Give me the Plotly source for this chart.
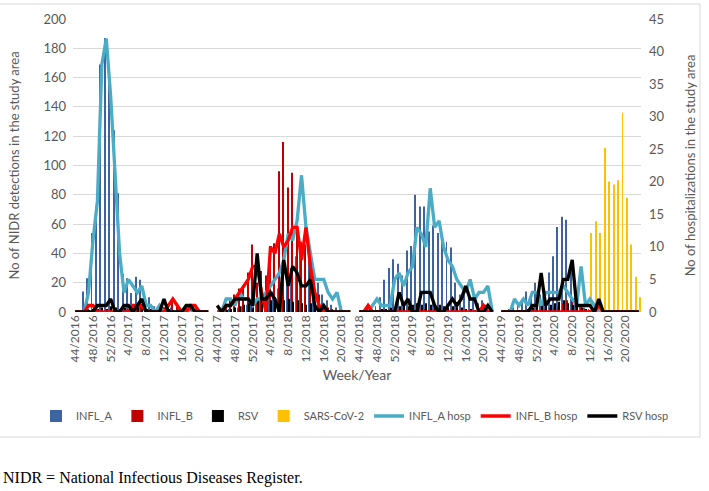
import plotly.graph_objects as go

# ---- categories (week/year), four seasons of week 44 .. week 23 ----
season_weeks = [44, 45, 46, 47, 48, 49, 50, 51, 52, 1, 2, 3, 4, 5, 6, 7, 8, 9, 10,
                11, 12, 13, 14, 15, 16, 17, 18, 19, 20, 21, 22, 23]
season_years = [(2016, 2017), (2017, 2018), (2018, 2019), (2019, 2020)]
categories = [f"{w}/{y1 if w >= 44 else y2}" for (y1, y2) in season_years for w in season_weeks]
tick_labels = categories[::4]

# ---- NIDR detections (left axis) ----
INFL_A_s1 = [0, 0, 14, 23, 54, 72, 169, 187, 166, 124, 81, 26, 23, 13, 24, 22, 8, 10, 4, 3, 2, 2, 3, 1, 2, 1, 1, 0, 1, 0, 0]
INFL_A_s2 = [0, 0, 1, 2, 3, 3, 4, 5, 6, 6, 8, 10, 12, 14, 16, 20, 25, 30, 38, 42, 40, 35, 28, 20, 12, 8, 5, 3, 2, 1, 0]
INFL_A_s3 = [0, 0, 1, 2, 4, 10, 22, 30, 36, 33, 25, 42, 45, 80, 72, 72, 55, 59, 54, 50, 48, 44, 20, 12, 16, 10, 8, 6, 8, 5, 3]
INFL_A_s4 = [0, 0, 2, 3, 5, 8, 14, 10, 20, 12, 15, 27, 38, 58, 65, 63, 30, 10, 5, 3, 2, 1, 0, 0, 0, 0, 0, 0, 0, 0, 0, 0]

INFL_B_s1 = [0, 0, 1, 2, 1, 0, 0, 1, 0, 1, 0, 1, 2, 3, 2, 4, 2, 1, 2, 1, 3, 5, 8, 4, 2, 3, 4, 2, 1, 1, 0]
INFL_B_s2 = [0, 2, 4, 8, 12, 16, 18, 27, 46, 20, 28, 25, 45, 47, 96, 116, 85, 95, 59, 48, 46, 37, 21, 12, 5, 3, 2, 1, 1, 0, 0]
INFL_B_s3 = [0, 1, 2, 1, 0, 0, 0, 1, 0, 1, 0, 1, 0, 1, 1, 2, 1, 1, 2, 1, 1, 2, 1, 0, 1, 1, 0, 0, 1, 0, 0]
INFL_B_s4 = [0, 0, 0, 0, 0, 0, 0, 1, 1, 1, 2, 3, 3, 4, 6, 8, 9, 5, 3, 2, 1, 0, 0, 0, 0, 0, 0, 0, 0, 0, 0, 0]

RSV_s1 = [0, 0, 1, 1, 2, 2, 3, 2, 4, 3, 2, 3, 2, 3, 4, 3, 2, 2, 1, 2, 3, 2, 1, 1, 1, 2, 1, 1, 0, 0, 0]
RSV_s2 = [0, 0, 1, 2, 3, 4, 5, 6, 8, 9, 10, 9, 8, 10, 9, 8, 9, 7, 8, 6, 5, 6, 4, 3, 2, 1, 1, 0, 0, 0, 0]
RSV_s3 = [0, 0, 0, 1, 1, 2, 2, 3, 3, 4, 5, 4, 5, 6, 5, 6, 5, 4, 5, 4, 3, 4, 3, 3, 2, 2, 1, 1, 1, 0, 0]
RSV_s4 = [0, 0, 0, 0, 1, 1, 2, 3, 4, 5, 6, 5, 6, 7, 8, 6, 5, 4, 3, 2, 1, 0, 0, 0, 0, 0, 0, 0, 0, 0, 0, 0]

SARS_s4 = [0, 0, 0, 0, 0, 0, 0, 0, 0, 0, 0, 0, 0, 0, 0, 0, 0, 0, 0, 0,
           54, 62, 54, 112, 89, 87, 90, 136, 78, 46, 24, 10]

# ---- hospitalizations (right axis) ----
INFL_A_hosp_s1 = [0, 0, 0, 3, 11, 17, 38, 42, 33, 21, 9, 3, 5, 4, 3, 4, 1, 1, 0, 1, 0, 0, 0, 0, 0, 0, 0, 0, 0, 0, 0]
INFL_A_hosp_s2 = [0, 0, 2, 2, 1, 3, 2, 2, 1, 2, 2, 3, 4, 5, 6, 8, 12, 11, 14, 21, 13, 9, 5, 5, 5, 3, 2, 3, 0, 0, 0]
INFL_A_hosp_s3 = [0, 0, 0, 1, 2, 1, 1, 1, 5, 6, 4, 6, 7, 13, 12, 10, 19, 13, 14, 10, 8, 7, 5, 4, 3, 5, 2, 3, 3, 4, 0]
INFL_A_hosp_s4 = [0, 0, 0, 2, 1, 2, 1, 3, 3, 1, 3, 3, 3, 3, 4, 3, 2, 1, 7, 1, 2, 1, 0, 0, 0, 0, 0, 0, 0, 0, 0, 0]

INFL_B_hosp_s1 = [0, 0, 0, 1, 1, 0, 0, 0, 0, 0, 0, 0, 0, 1, 1, 1, 0, 0, 0, 0, 0, 1, 2, 1, 0, 0, 1, 1, 0, 0, 0]
INFL_B_hosp_s2 = [0, 0, 1, 1, 2, 3, 4, 5, 7, 7, 3, 0, 10, 9, 12, 10, 11, 13, 13, 8, 13, 7, 3, 1, 0, 0, 0, 0, 0, 0, 0]
INFL_B_hosp_s3 = [0, 0, 1, 0, 0, 0, 0, 0, 0, 0, 0, 0, 0, 0, 0, 0, 0, 0, 0, 0, 0, 0, 0, 0, 0, 0, 0, 0, 1, 0, 0]
INFL_B_hosp_s4 = [0, 0, 0, 0, 0, 0, 0, 0, 0, 0, 0, 0, 0, 0, 0, 0, 0, 0, 0, 0, 0, 0, 1, 0, 0, 0, 0, 0, 0, 0, 0, 0]

RSV_hosp_s1 = [0, 0, 0, 0, 0, 1, 1, 1, 2, 0, 0, 1, 1, 0, 1, 2, 0, 0, 0, 0, 2, 0, 0, 0, 0, 1, 1, 0, 0, 0, 0]
RSV_hosp_s2 = [1, 0, 1, 1, 2, 2, 2, 2, 1, 9, 2, 2, 3, 2, 0, 8, 4, 7, 6, 4, 4, 5, 1, 0, 1, 0, 0, 0, 0, 0, 0]
RSV_hosp_s3 = [0, 0, 0, 0, 0, 0, 0, 0, 0, 3, 1, 2, 0, 0, 3, 3, 3, 1, 0, 0, 1, 2, 1, 2, 4, 2, 2, 0, 0, 1, 0]
RSV_hosp_s4 = [0, 0, 0, 0, 0, 0, 0, 1, 1, 6, 1, 2, 2, 2, 5, 5, 8, 1, 1, 1, 1, 0, 2, 0, 0, 0, 0, 0, 0, 0, 0, 0]


def join(s1, s2, s3, s4):
    # one empty week (gap) between seasons
    return s1 + [None] + s2 + [None] + s3 + [None] + s4


INFL_A = join(INFL_A_s1, INFL_A_s2, INFL_A_s3, INFL_A_s4)
INFL_B = join(INFL_B_s1, INFL_B_s2, INFL_B_s3, INFL_B_s4)
RSV = join(RSV_s1, RSV_s2, RSV_s3, RSV_s4)
SARS = [None] * 96 + SARS_s4
INFL_A_hosp = join(INFL_A_hosp_s1, INFL_A_hosp_s2, INFL_A_hosp_s3, INFL_A_hosp_s4)
INFL_B_hosp = join(INFL_B_hosp_s1, INFL_B_hosp_s2, INFL_B_hosp_s3, INFL_B_hosp_s4)
RSV_hosp = join(RSV_hosp_s1, RSV_hosp_s2, RSV_hosp_s3, RSV_hosp_s4)

FONT = "Lato, 'Liberation Sans', sans-serif"
GREY = "#595959"

fig = go.Figure()
bar_series = [("INFL_A", INFL_A, "#3D64A0"), ("INFL_B", INFL_B, "#C00000"),
              ("RSV", RSV, "#000000"), ("SARS-CoV-2", SARS, "#FFC000")]
for name, vals, col in bar_series:
    fig.add_trace(go.Bar(x=categories, y=vals, name=name, marker_color=col,
                         marker_line_width=0, yaxis="y"))
line_series = [("INFL_A hosp", INFL_A_hosp, "#4BACC6"), ("INFL_B hosp", INFL_B_hosp, "#FF0000"),
               ("RSV hosp", RSV_hosp, "#000000")]
for name, vals, col in line_series:
    fig.add_trace(go.Scatter(x=categories, y=vals, name=name, mode="lines",
                             line=dict(color=col, width=3.3), yaxis="y2", connectgaps=False))

L, R, T, B = 73, 641, 19, 312
W, H = 709, 491
pw, ph = R - L, B - T


def px_x(p):
    return (p - L) / pw


def px_y(p):
    return (B - p) / ph


fig.update_layout(
    width=W, height=H,
    margin=dict(l=L, r=W - R, t=T, b=H - B, pad=0, autoexpand=False),
    paper_bgcolor="white", plot_bgcolor="white",
    barmode="group", bargap=0.12, bargroupgap=0,
    font=dict(family=FONT, color=GREY, size=12),
    xaxis=dict(type="category", categoryorder="array", categoryarray=categories,
               range=[-0.5, len(categories) - 0.5],
               tickmode="array", tickvals=tick_labels, ticktext=tick_labels,
               tickangle=-90, tickfont=dict(size=12, color=GREY), ticks="",
               showgrid=False, showline=False, zeroline=False, automargin=False,
               title=dict(text="Week/Year", font=dict(size=14, color=GREY), standoff=8)),
    yaxis=dict(range=[0, 200], dtick=20, showgrid=True, gridcolor="#D9D9D9", gridwidth=1,
               zeroline=False, showline=False, ticks="", automargin=False,
               tickfont=dict(size=13, color=GREY), ticklabelstandoff=6,
               title=dict(text="No of NIDR detections in the study area",
                          font=dict(size=13, color=GREY), standoff=20)),
    yaxis2=dict(range=[0, 45], dtick=5, overlaying="y", side="right", showgrid=False,
                zeroline=False, showline=False, ticks="", automargin=False,
                tickfont=dict(size=13, color=GREY), ticklabelstandoff=7,
                title=dict(text="No of hospitalizations in the study area",
                           font=dict(size=13, color=GREY), standoff=22)),
    legend=dict(orientation="h", x=px_x(36), xanchor="left", y=px_y(416), yanchor="middle",
                font=dict(size=11, color=GREY), bgcolor="rgba(0,0,0,0)", borderwidth=0,
                traceorder="normal", itemwidth=30, tracegroupgap=0),
    showlegend=True,
)

fig.add_shape(type="rect", xref="paper", yref="paper",
              x0=px_x(-2), x1=px_x(700), y0=px_y(437), y1=px_y(4),
              line=dict(color="#D9D9D9", width=1), fillcolor="rgba(0,0,0,0)", layer="below")

fig.add_annotation(text="NIDR = National Infectious Diseases Register.",
                   xref="paper", yref="paper", x=px_x(1), y=px_y(478),
                   xanchor="left", yanchor="middle", showarrow=False,
                   font=dict(family="'Liberation Serif', 'Times New Roman', serif", size=16, color="black"))

fig.write_html("out.html", config={"displayModeBar": False},
               post_script="document.body.style.margin='0';")
